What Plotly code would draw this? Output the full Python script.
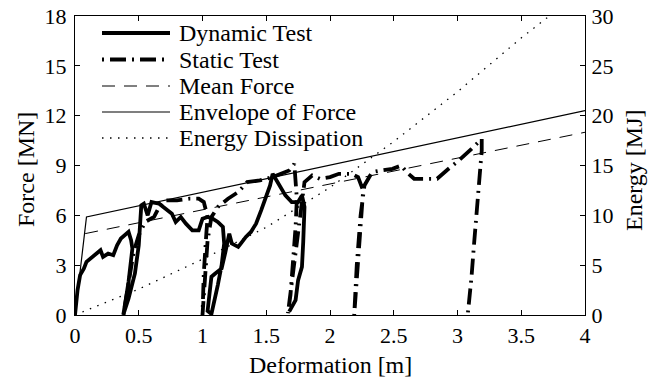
import plotly.graph_objects as go

# ---------------- data ----------------
dyn_x = [0, 0.02, 0.04, 0.07, 0.09, 0.12, 0.16, 0.2, 0.22, 0.26, 0.3, 0.33, 0.36, 0.39, 0.42, 0.44, 0.45, 0.42,
         0.38, 0.42, 0.47, 0.5, 0.51, 0.52, 0.54, 0.57, 0.6, 0.66, 0.71, 0.76, 0.79, 0.83, 0.87, 0.92, 0.97, 1.0,
         1.04, 1.08, 1.12, 1.16, 1.17, 1.15, 1.12, 1.07, 1.04, 1.07, 1.1, 1.15, 1.18, 1.21, 1.23, 1.28, 1.3, 1.34,
         1.38, 1.42, 1.46, 1.5, 1.53, 1.55, 1.58, 1.61, 1.65, 1.7, 1.75, 1.78, 1.8, 1.79, 1.78, 1.75, 1.73, 1.68]
dyn_f = [0, 1.5, 2.4, 2.8, 3.2, 3.4, 3.7, 3.9, 3.5, 3.7, 3.6, 4.2, 4.6, 4.8, 5.0, 4.5, 4.0, 2.0,
         0.05, 1.0, 2.5, 4.2, 5.5, 6.6, 6.7, 6.0, 6.8, 6.7, 6.4, 6.1, 5.6, 5.9, 5.5, 5.1, 5.1, 5.8,
         5.9, 5.8, 5.6, 5.3, 4.3, 3.0, 1.8, 0.06, 0.25, 2.3, 2.5, 2.8, 3.8, 4.9, 4.3, 4.1, 4.3, 4.7,
         5.0, 5.5, 6.3, 7.1, 7.8, 8.5, 8.1, 7.7, 7.2, 6.8, 6.8, 7.2, 6.5, 4.4, 2.9, 2.1, 0.9, 0.2]

sta_x = [0.38, 0.42, 0.46, 0.5, 0.55, 0.62, 0.66, 0.7, 0.8, 0.9, 0.97, 1.01, 1.04, 1.03, 1.01, 1.0, 1.02, 1.04,
         1.07, 1.12, 1.2, 1.28, 1.35, 1.45, 1.55, 1.62, 1.68, 1.72, 1.74, 1.73, 1.71, 1.69, 1.67, 1.71, 1.76, 1.8,
         1.86, 1.92, 2.0, 2.07, 2.17, 2.22, 2.26, 2.23, 2.19, 2.21, 2.24, 2.27, 2.33, 2.4, 2.49, 2.56, 2.6, 2.66,
         2.73, 2.84, 2.93, 3.01, 3.11, 3.19, 3.19, 3.16, 3.13, 3.11, 3.08]
sta_f = [0, 2.0, 3.8, 4.8, 5.6, 5.9, 6.5, 6.9, 6.9, 7.0, 7.0, 6.8, 5.9, 4.9, 2.5, 0, 2.5, 4.5,
         5.9, 6.5, 7.0, 7.4, 8.0, 8.1, 8.3, 8.5, 8.7, 9.1, 7.0, 5.3, 3.2, 1.2, 0.1, 2.5, 5.5, 8.0,
         8.4, 8.2, 8.3, 8.5, 8.5, 8.3, 7.5, 4.0, 0, 3.0, 6.0, 7.8, 8.6, 8.7, 8.8, 9.0, 8.6, 8.2,
         8.2, 8.2, 8.8, 9.3, 10.0, 10.6, 9.9, 7.3, 4.3, 2.3, 0]

mean_x = [0.08, 4.0]
mean_f = [4.9, 11.0]

env_x = [0, 0.09, 4.0]
env_f = [0, 5.9, 12.3]

en_x = [0, 0.5, 1.0, 1.5, 2.0, 2.5, 3.0, 3.5, 3.8]
en_e = [0, 2.6, 5.6, 8.8, 12.8, 17.4, 22.4, 27.8, 30.8]

x_ticks = [0, 0.5, 1, 1.5, 2, 2.5, 3, 3.5, 4]
y_ticks = [0, 3, 6, 9, 12, 15, 18]
y2_ticks = [0, 5, 10, 15, 20, 25, 30]

legend_names = ["Dynamic Test", "Static Test", "Mean Force", "Envelope of Force", "Energy Dissipation"]
x_title = "Deformation [m]"
y_title = "Force [MN]"
y2_title = "Energy [MJ]"

FONT = "Liberation Serif, DejaVu Serif, serif"
STATIC_DASH = "2px,6px,16px,6px"
MEAN_DASH = "13px,9px"
DOT_DASH = "1.5px,6.5px"
THICK = 3.8

fig = go.Figure()
fig.add_trace(go.Scatter(x=env_x, y=env_f, mode="lines", line=dict(color="black", width=1.2), showlegend=False))
fig.add_trace(go.Scatter(x=mean_x, y=mean_f, mode="lines", line=dict(color="black", width=1.0, dash=MEAN_DASH), showlegend=False))
fig.add_trace(go.Scatter(x=en_x, y=en_e, mode="lines", yaxis="y2", line=dict(color="black", width=1.3, dash=DOT_DASH), showlegend=False))
fig.add_trace(go.Scatter(x=sta_x, y=sta_f, mode="lines", line=dict(color="black", width=THICK, dash=STATIC_DASH), showlegend=False))
fig.add_trace(go.Scatter(x=dyn_x, y=dyn_f, mode="lines", line=dict(color="black", width=THICK), showlegend=False))

# plot-area geometry in pixels
W, H = 649, 381
L, R = 75, 585
T, B = 16, 315
def px(x):
    return (x - L) / (R - L)
def py(y):
    return (B - y) / (B - T)

# manual legend with long line samples, as in the reference
styles = [dict(width=THICK, dash="solid"), dict(width=THICK, dash=STATIC_DASH), dict(width=1.0, dash=MEAN_DASH),
          dict(width=1.2, dash="solid"), dict(width=1.3, dash=DOT_DASH)]
rows = [33, 59.5, 86, 112, 138]
for name, st, ry in zip(legend_names, styles, rows):
    fig.add_shape(type="line", xref="paper", yref="paper", x0=px(102), x1=px(170), y0=py(ry), y1=py(ry),
                  line=dict(color="black", width=st["width"], dash=st["dash"]))
    fig.add_annotation(xref="paper", yref="paper", x=px(177), y=py(ry), text=name, showarrow=False,
                       xanchor="left", yanchor="middle", font=dict(family=FONT, size=24, color="black"))

# axis titles
title_font = dict(family=FONT, size=24, color="black")
fig.add_annotation(xref="paper", yref="paper", x=px(330), y=py(380), text=x_title, showarrow=False,
                   xanchor="center", yanchor="bottom", font=title_font)
fig.add_annotation(xref="paper", yref="paper", x=px(26), y=py(170), text=y_title, showarrow=False, textangle=-90,
                   xanchor="center", yanchor="middle", font=title_font)
fig.add_annotation(xref="paper", yref="paper", x=px(634), y=py(170), text=y2_title, showarrow=False, textangle=-90,
                   xanchor="center", yanchor="middle", font=title_font)

axis_common = dict(showline=True, linecolor="black", linewidth=1.2, ticks="inside", ticklen=5, tickcolor="black",
                   showgrid=False, zeroline=False, automargin=False,
                   tickfont=dict(family=FONT, size=22, color="black"))

fig.update_layout(
    width=W, height=H,
    margin=dict(l=L, r=W - R, t=T, b=H - B),
    paper_bgcolor="white", plot_bgcolor="white",
    showlegend=False,
    font=dict(family=FONT, color="black"),
    xaxis=dict(range=[0, 4], tickvals=x_ticks, ticktext=[f"{v:g}" for v in x_ticks], mirror="ticks",
               ticklabelstandoff=0, **axis_common),
    yaxis=dict(range=[0, 18], tickvals=y_ticks, mirror=True, ticklabelstandoff=3, **axis_common),
    yaxis2=dict(range=[0, 30], tickvals=y2_ticks, overlaying="y", side="right", ticklabelstandoff=1,
                **axis_common),
)

fig.write_html("out.html")
